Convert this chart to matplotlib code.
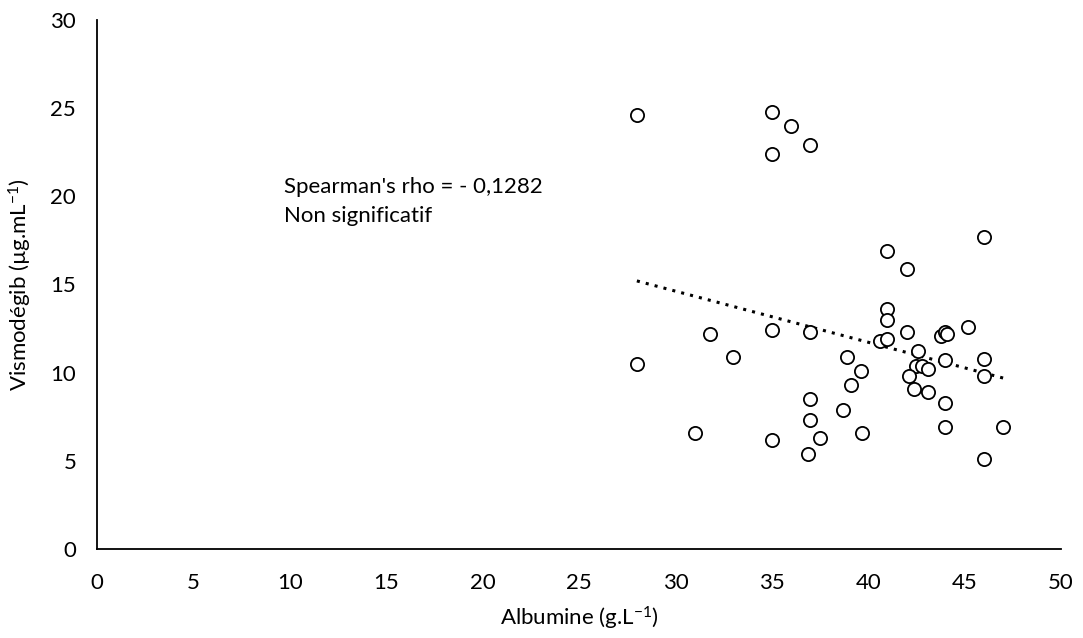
import numpy as np
import matplotlib
matplotlib.use("Agg")
import matplotlib.pyplot as plt

plt.rcParams['font.family'] = ['Lato', 'DejaVu Sans']
plt.rcParams['mathtext.fontset'] = 'custom'
plt.rcParams['mathtext.rm'] = 'Lato'
plt.rcParams['mathtext.it'] = 'Lato:italic'
plt.rcParams['mathtext.default'] = 'regular'

albumine = [28, 35, 36, 37, 35, 41, 42, 46,
            28, 31.8, 33, 35, 37, 31, 35, 37, 37, 37.5, 36.9,
            38.9, 39.6, 39.1, 38.7, 39.7, 41, 41, 40.6, 41, 42,
            42.6, 42.5, 42.8, 43.1, 42.1, 42.4, 43.1, 43.8, 44, 44.1,
            44, 44, 44, 45.2, 46, 46, 47, 46]
vismodegib = [24.6, 24.8, 24.0, 22.9, 22.4, 16.9, 15.9, 17.7,
              10.5, 12.2, 10.9, 12.4, 12.3, 6.6, 6.2, 8.5, 7.3, 6.3, 5.4,
              10.9, 10.1, 9.3, 7.9, 6.6, 13.6, 13.0, 11.8, 11.9, 12.3,
              11.2, 10.4, 10.4, 10.2, 9.8, 9.1, 8.9, 12.1, 12.3, 12.2,
              10.7, 8.3, 6.9, 12.6, 10.8, 9.8, 6.9, 5.1]

x_ticks = [0, 5, 10, 15, 20, 25, 30, 35, 40, 45, 50]
y_ticks = [0, 5, 10, 15, 20, 25, 30]
annotation_lines = ["Spearman's rho = - 0,1282", "Non significatif"]

fig = plt.figure(figsize=(10.83, 6.38), dpi=100)
ax = fig.add_axes([0.0896, 0.1395, 0.8901, 0.8292])

ax.scatter(albumine, vismodegib, s=9.5**2, facecolors='white',
           edgecolors='black', linewidths=1.3, zorder=3)

xa = np.array(albumine)
ya = np.array(vismodegib)
slope, intercept = np.polyfit(xa, ya, 1)
xl = np.array([xa.min(), xa.max()])
ax.plot(xl, slope * xl + intercept, linestyle=(0, (1, 2.0)), color='black',
        linewidth=2.2, zorder=2)

ax.set_xlim(0, 50)
ax.set_ylim(0, 30)
ax.set_xticks(x_ticks)
ax.set_yticks(y_ticks)
ax.tick_params(axis='both', length=0, labelsize=16)
ax.tick_params(axis='x', pad=17)
ax.tick_params(axis='y', pad=15)
for s in ['top', 'right']:
    ax.spines[s].set_visible(False)
for s in ['left', 'bottom']:
    ax.spines[s].set_linewidth(1.3)
    ax.spines[s].set_color('black')

ax.set_xlabel('Albumine (g.L$^{-1}$)', fontsize=16, labelpad=9)
ax.set_ylabel('Vismodégib (µg.mL$^{-1}$)', fontsize=16, labelpad=12)

ax.text(9.7, 20.5, annotation_lines[0], fontsize=16, va='center', ha='left')
ax.text(9.7, 18.9, annotation_lines[1], fontsize=16, va='center', ha='left')

fig.savefig('out.png', dpi=100)
